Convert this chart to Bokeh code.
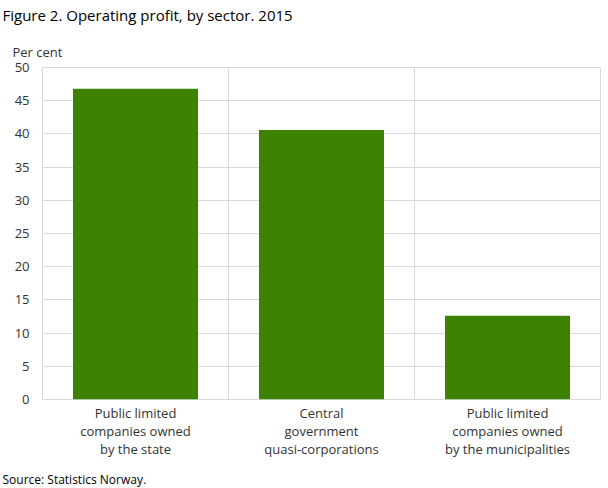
from bokeh.plotting import figure
from bokeh.models import Title, Range1d, FactorRange, Span
from bokeh.embed import file_html
from bokeh.resources import INLINE

categories = [
    "Public limited\ncompanies owned\nby the state",
    "Central\ngovernment\nquasi-corporations",
    "Public limited\ncompanies owned\nby the municipalities",
]
values = [46.8, 40.6, 12.6]
y_ticks = [0, 5, 10, 15, 20, 25, 30, 35, 40, 45, 50]

FONT = "Open Sans"
TXT = "#333333"
GRID = "#d9d9d9"

p = figure(
    width=608, height=501,
    x_range=FactorRange(*categories, range_padding=0),
    y_range=Range1d(0, 50),
    output_backend="svg", toolbar_location=None,
    min_border_left=42, min_border_right=8, min_border_top=0, min_border_bottom=0,
)
p.styles = {"margin-top": "-7px"}

p.vbar(x=categories, top=values, width=0.672, color="#3d8200", line_color=None)

p.title = Title(text="Figure 2. Operating profit, by sector. 2015", align="left", offset=-40,
                text_font=FONT, text_font_size="15px", text_font_style="normal",
                text_color="#000000", standoff=19)
p.add_layout(Title(text="Per cent", align="left", offset=-30, text_font=FONT,
                   text_font_size="13px", text_font_style="normal", text_color=TXT,
                   standoff=13), "above")
p.add_layout(Title(text="Source: Statistics Norway.", align="left", offset=-40,
                   text_font=FONT, text_font_size="12px", text_font_style="normal",
                   text_color="#000000", standoff=14), "below")

p.yaxis.ticker = y_ticks
p.yaxis.axis_line_color = None
p.yaxis.major_tick_line_color = None
p.yaxis.minor_tick_line_color = None
p.yaxis.major_tick_out = 0
p.yaxis.major_tick_in = 0
p.yaxis.major_label_standoff = 13
p.yaxis.major_label_text_font = FONT
p.yaxis.major_label_text_font_size = "13px"
p.yaxis.major_label_text_color = TXT

p.xaxis.axis_line_color = None
p.xaxis.major_tick_line_color = None
p.xaxis.major_tick_out = 0
p.xaxis.major_tick_in = 0
p.xaxis.major_label_standoff = 4
p.xaxis.major_label_text_font = FONT
p.xaxis.major_label_text_font_size = "13px"
p.xaxis.major_label_text_color = TXT
p.xaxis.major_label_text_line_height = 1.02

p.ygrid.grid_line_color = GRID
p.xgrid.grid_line_color = None
p.outline_line_color = GRID
p.outline_line_width = 1

for b in range(1, len(categories)):
    p.add_layout(Span(location=b, dimension="height", line_color=GRID, line_width=1))

open("out.html", "w").write(file_html(p, INLINE))
